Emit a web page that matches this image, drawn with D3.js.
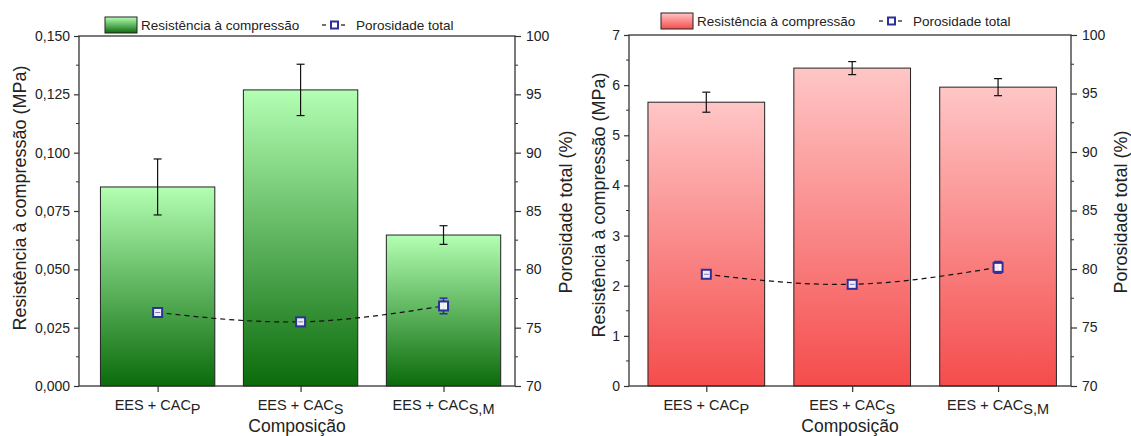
<!DOCTYPE html>
<html><head><meta charset="utf-8">
<script src="https://cdn.jsdelivr.net/npm/d3@7"></script>
<style>body{margin:0;background:#fff}svg{display:block}text{font-family:"Liberation Sans",Arial,sans-serif;fill:#222}</style>
</head><body><svg id="c" width="1131" height="436"></svg>
<script>
// ---- data ----
const categories = ["P", "S", "S,M"];            // subscripts of "EES + CAC"
const strengthLeft = [0.0853, 0.1269, 0.0647];
const strengthLeftErr = [0.012, 0.011, 0.004];
const porosityLeft = [76.3, 75.5, 76.86];
const porosityLeftErr = [0.2, 0.2, 0.67];
const strengthRight = [5.66, 6.34, 5.96];
const strengthRightErr = [0.2, 0.13, 0.17];
const porosityRight = [79.55, 78.69, 80.14];
const porosityRightErr = [0.2, 0.2, 0.5];
const leftTicksA = [0, 0.025, 0.05, 0.075, 0.1, 0.125, 0.15];
const rightTicksA = [0, 1, 2, 3, 4, 5, 6, 7];
const porosityTicks = [70, 75, 80, 85, 90, 95, 100];
const legendLabels = ["Resistência à compressão", "Porosidade total"];
const yTitleLeft = "Resistência à compressão (MPa)";
const yTitleRight = "Porosidade total (%)";
const xTitle = "Composição";

const svg = d3.select("#c");
const defs = svg.append("defs");
function grad(id, top, bottom) {
  const g = defs.append("linearGradient").attr("id", id).attr("x1", 0).attr("y1", 0).attr("x2", 0).attr("y2", 1);
  g.append("stop").attr("offset", "0%").attr("stop-color", top);
  g.append("stop").attr("offset", "100%").attr("stop-color", bottom);
}
grad("gGreen", "#b3ffb3", "#0b6b0b");
grad("gRed", "#ffc6c6", "#f54c4c");

const blue = "#2f2f9c";

function panel(o) {
  const g = svg.append("g");
  const x = d3.scaleLinear().domain(o.xDomain).range([o.x0, o.x1]);
  const y = d3.scaleLinear().domain(o.yDomain).range([o.yb, o.yt]);
  const y2 = d3.scaleLinear().domain([70, 100]).range([o.yb, o.yt]);
  const idx = categories.map((c, i) => i + 1);
  const bw = (x(2) - x(1)) * 0.8;

  g.selectAll("rect.bar").data(o.vals).join("rect")
    .attr("x", (d, i) => x(i + 1) - bw / 2).attr("width", bw)
    .attr("y", d => y(d)).attr("height", d => y(o.yDomain[0]) - y(d))
    .attr("fill", `url(#${o.grad})`).attr("stroke", "#222").attr("stroke-width", 1);
  o.vals.forEach((v, i) => {
    const cx = x(i + 1), e = o.errs[i];
    g.append("line").attr("x1", cx).attr("x2", cx).attr("y1", y(v + e)).attr("y2", y(v - e)).attr("stroke", "#111").attr("stroke-width", 1.2);
    [v + e, v - e].forEach(t => g.append("line").attr("x1", cx - 4).attr("x2", cx + 4).attr("y1", y(t)).attr("y2", y(t)).attr("stroke", "#111").attr("stroke-width", 1.2));
  });

  g.append("rect").attr("x", o.x0).attr("y", o.yt).attr("width", o.x1 - o.x0).attr("height", o.yb - o.yt)
    .attr("fill", "none").attr("stroke", "#333").attr("stroke-width", 1.3);

  const ax = d3.axisLeft(y).tickValues(o.ticks).tickSize(5).tickPadding(4).tickFormat(o.fmt);
  const gl = g.append("g").attr("transform", `translate(${o.x0},0)`).call(ax);
  const minorL = d3.range(o.ticks.length - 1).map(i => (o.ticks[i] + o.ticks[i + 1]) / 2);
  gl.selectAll("line.minor").data(minorL).join("line").attr("class", "minor")
    .attr("x1", -3).attr("x2", 0).attr("y1", d => y(d)).attr("y2", d => y(d)).attr("stroke", "#333");

  const ar = d3.axisRight(y2).tickValues(porosityTicks).tickSize(6).tickPadding(5).tickFormat(d3.format("d"));
  const gr = g.append("g").attr("transform", `translate(${o.x1},0)`).call(ar);
  const minorR = d3.range(porosityTicks.length - 1).map(i => porosityTicks[i] + 2.5);
  gr.selectAll("line.minor").data(minorR).join("line").attr("class", "minor")
    .attr("x1", 0).attr("x2", 3).attr("y1", d => y2(d)).attr("y2", d => y2(d)).attr("stroke", "#333");

  const ab = d3.axisBottom(x).tickValues(idx).tickSize(6).tickFormat("");
  g.append("g").attr("transform", `translate(0,${o.yb})`).call(ab);
  g.selectAll(".domain").remove();
  g.selectAll(".tick line").attr("stroke", "#333").attr("stroke-width", 1.2);
  g.selectAll(".tick text").style("font-size", "14px").attr("fill", "#222").style("font-family", '"Liberation Sans",Arial,sans-serif');

  categories.forEach((c, i) => {
    const t = g.append("text").attr("x", x(i + 1)).attr("y", o.yb + 24).attr("text-anchor", "middle").style("font-size", "14.5px");
    t.append("tspan").text("EES + CAC");
    t.append("tspan").attr("dy", 4).style("font-size", "14.5px").text(c);
  });

  g.append("text").attr("x", (o.x0 + o.x1) / 2).attr("y", 432).attr("text-anchor", "middle").style("font-size", "17.5px").text(xTitle);
  g.append("text").attr("transform", `translate(${o.tl},${o.tly}) rotate(-90)`).attr("text-anchor", "middle").style("font-size", "18px").text(yTitleLeft);
  g.append("text").attr("transform", `translate(${o.tr},${o.try}) rotate(-90)`).attr("text-anchor", "middle").style("font-size", "18px").text(yTitleRight);

  const line = d3.line().x((d, i) => x(i + 1)).y(d => y2(d)).curve(d3.curveNatural);
  g.append("path").attr("d", line(o.por)).attr("fill", "none").attr("stroke", "#111").attr("stroke-width", 1.2).attr("stroke-dasharray", "5,4");
  o.por.forEach((v, i) => {
    const cx = x(i + 1), e = o.porErr[i];
    g.append("line").attr("x1", cx).attr("x2", cx).attr("y1", y2(v + e)).attr("y2", y2(v - e)).attr("stroke", blue).attr("stroke-width", 1.5);
    [v + e, v - e].forEach(t => g.append("line").attr("x1", cx - 4).attr("x2", cx + 4).attr("y1", y2(t)).attr("y2", y2(t)).attr("stroke", blue).attr("stroke-width", 1.5));
    g.append("rect").attr("x", cx - 4.5).attr("y", y2(v) - 4.5).attr("width", 9).attr("height", 9)
      .attr("fill", "white").attr("fill-opacity", 0.9).attr("stroke", blue).attr("stroke-width", 2);
    g.append("line").attr("x1", cx - 2.5).attr("x2", cx + 2.5).attr("y1", y2(v)).attr("y2", y2(v)).attr("stroke", blue).attr("stroke-width", 1).attr("opacity", e < 0.3 ? 0.6 : 0);
  });

  const L = o.leg;
  g.append("rect").attr("x", L.x).attr("y", L.y).attr("width", 32).attr("height", 16)
    .attr("fill", `url(#${o.grad})`).attr("stroke", "#222").attr("stroke-width", 1);
  g.append("text").attr("x", L.x + 36).attr("y", L.y + 13).style("font-size", "13.5px").text(legendLabels[0]);
  const lx = L.px, ly = L.y + 8;
  g.append("line").attr("x1", lx).attr("x2", lx + 4).attr("y1", ly).attr("y2", ly).attr("stroke", "#111").attr("stroke-width", 1.2);
  g.append("rect").attr("x", lx + 9).attr("y", ly - 3.5).attr("width", 7).attr("height", 7).attr("fill", "white").attr("stroke", blue).attr("stroke-width", 2);
  g.append("line").attr("x1", lx + 19).attr("x2", lx + 23).attr("y1", ly).attr("y2", ly).attr("stroke", "#111").attr("stroke-width", 1.2);
  g.append("text").attr("x", lx + 34).attr("y", L.y + 13).style("font-size", "13.5px").text(legendLabels[1]);
}

const fmt3 = v => d3.format(".3f")(v).replace(".", ",");
panel({x0: 79, x1: 515, yt: 36, yb: 386, xDomain: [0.45, 3.5], yDomain: [0, 0.15], ticks: leftTicksA, fmt: fmt3,
  vals: strengthLeft, errs: strengthLeftErr, por: porosityLeft, porErr: porosityLeftErr, grad: "gGreen",
  tl: 26, tly: 198, tr: 572, try: 212, leg: {x: 105, y: 17, px: 322}});
panel({x0: 629, x1: 1071, yt: 35, yb: 386, xDomain: [0.47, 3.5], yDomain: [0, 7], ticks: rightTicksA, fmt: d3.format("d"),
  vals: strengthRight, errs: strengthRightErr, por: porosityRight, porErr: porosityRightErr, grad: "gRed",
  tl: 605, tly: 205, tr: 1127, try: 212, leg: {x: 661, y: 13, px: 879}});
</script></body></html>
